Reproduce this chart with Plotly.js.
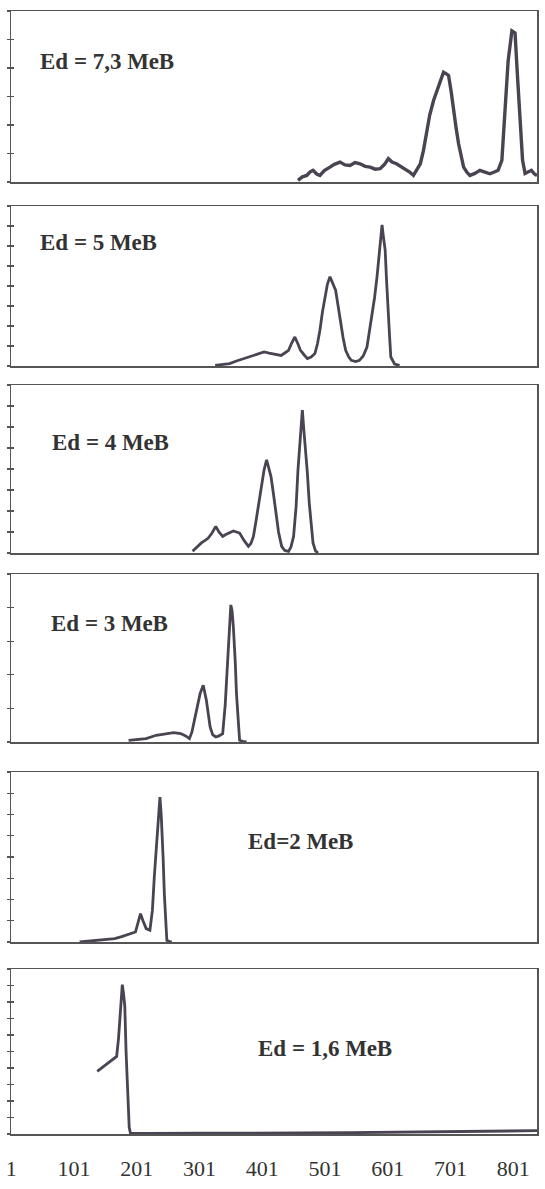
<!DOCTYPE html>
<html>
<head>
<meta charset="utf-8">
<script src="https://cdn.plot.ly/plotly-3.0.1.min.js"></script>
<style>html,body{margin:0;padding:0;background:#fff;}</style>
</head>
<body>
<div id="chart" style="width:545px;height:1189px;"></div>
<script>
// ---------- data (channel number vs. counts) ----------
const panelLabels = ["Ed = 7,3 МеВ", "Ed = 5 МеВ", "Ed = 4 МеВ", "Ed = 3 МеВ", "Ed=2 МеВ", "Ed = 1,6 МеВ"];
const xTickVals = [1, 101, 201, 301, 401, 501, 601, 701, 801];
const xTickText = ["1", "101", "201", "301", "401", "501", "601", "701", "801"];

const ch73 = [458,465,472,477,482,488,493,500,509,516,525,533,541,549,557,565,573,581,589,596,602,608,615,622,629,636,642,647,653,658,663,668,674,678,682,686,690,694,698,702,706,710,714,718,722,727,732,740,748,756,764,771,777,783,788,793,799,804,808,812,816,820,825,830,835,839];
const n73  = [6,18,23,35,41,28,23,40,52,62,70,60,58,68,64,55,52,45,47,62,82,70,64,55,47,35,23,40,64,110,181,235,285,310,332,360,385,380,374,320,250,190,134,90,52,35,23,30,41,35,29,35,41,76,250,425,530,523,367,192,76,30,35,41,28,23];

const ch5 = [326,337,349,360,371,380,387,396,404,412,421,431,437,443,448,453,458,462,468,473,479,485,489,493,497,501,505,509,513,518,522,526,530,534,539,543,550,556,562,568,572,576,580,584,588,592,594,597,599,601,604,606,612,620];
const n5  = [3,8,12,25,37,45,53,62,70,64,58,53,65,78,115,145,110,78,55,37,45,62,110,179,270,346,410,446,420,379,300,212,140,78,45,28,22,28,50,95,170,246,340,446,560,705,650,580,440,296,150,45,10,3];

const ch4 = [290,297,304,310,315,321,327,332,338,343,349,355,360,365,372,379,383,387,391,396,400,404,408,412,415,419,423,427,432,437,443,447,451,455,458,461,465,467,470,473,476,479,482,486,490];
const n4  = [8,30,48,60,71,95,127,100,79,88,95,105,100,95,60,32,45,79,150,238,320,396,444,400,364,280,190,100,32,12,8,30,79,220,396,540,681,600,507,380,238,130,48,10,0];

const ch3 = [188,200,216,232,249,260,271,279,285,289,293,297,302,307,312,318,322,327,332,338,342,346,349,351,353,355,358,360,363,365,370,376];
const n3  = [5,8,10,20,25,28,25,18,10,30,65,105,144,169,124,45,22,15,18,25,110,244,340,408,390,343,240,144,60,5,2,0];

const ch2 = [110,125,138,152,166,177,188,194,199,203,207,211,216,222,226,229,232,234,236,238,240,241,243,245,247,249,253,257];
const n2  = [0,5,8,12,16,25,36,40,47,90,133,100,63,55,150,306,440,557,640,682,600,541,400,227,100,8,2,0];

const ch16 = [138,147,155,162,169,172,174,176,178,180,182,184,187,189,191,220,300,380,460,540,620,700,780,839];
const n16  = [379,405,429,450,470,580,692,800,905,850,773,500,146,40,4,3,5,4,6,8,10,13,16,20];

const yMaxCounts = [600, 800, 800, 500, 800, 1000];

// ---------- layout geometry (pixels) ----------
const W = 545, H = 1189;
const X0 = 11, X1 = 537;
const panelTop = [11, 206, 385, 574, 772, 969];
const panelBot = [182, 366, 553, 742, 942, 1134];
const textLeft = [38, 38, 50, 49, 246, 256];
const textMid  = [62, 242, 442, 623, 842, 1048];

const series = [[ch73, n73], [ch5, n5], [ch4, n4], [ch3, n3], [ch2, n2], [ch16, n16]];

const lineCol = '#4a4352';
const axisCol = '#555555';
const data = [];
const layout = {
  width: W, height: H,
  margin: {l: 0, r: 0, t: 0, b: 0},
  paper_bgcolor: '#ffffff', plot_bgcolor: '#ffffff',
  showlegend: false,
  annotations: []
};

for (let i = 0; i < 6; i++) {
  const xs = i === 0 ? '' : String(i + 1);
  const ys = i === 0 ? '' : String(i + 1);
  const xid = 'x' + xs, yid = 'y' + ys;
  const ovId = 'y' + (i + 7);

  data.push({
    x: series[i][0], y: series[i][1],
    mode: 'lines', xaxis: xid, yaxis: yid,
    line: {color: lineCol, width: i === 0 ? 3.4 : 2.8},
    hoverinfo: 'skip'
  });
  data.push({x: [], y: [], mode: 'lines', xaxis: xid, yaxis: ovId, hoverinfo: 'skip'});

  layout['xaxis' + xs] = {
    domain: [X0 / W, X1 / W],
    range: [0.6, 839],
    anchor: yid,
    showline: true, mirror: true, linecolor: axisCol, linewidth: 1.5,
    showgrid: false, zeroline: false,
    ticks: '',
    showticklabels: i === 5,
    tickmode: 'array', tickvals: xTickVals, ticktext: xTickText,
    tickfont: {family: 'Liberation Serif', size: 22, color: '#333333'},
    ticklabelstandoff: 14,
    fixedrange: true
  };
  const yRange = [0, yMaxCounts[i]];
  layout['yaxis' + ys] = {
    domain: [1 - panelBot[i] / H, 1 - panelTop[i] / H],
    range: yRange,
    anchor: xid,
    showline: true, mirror: true, linecolor: axisCol, linewidth: 1.5,
    showgrid: false, zeroline: false,
    ticks: 'outside', ticklen: 3, tickwidth: 1.2, tickcolor: axisCol,
    tickmode: 'linear', tick0: 0, dtick: 100,
    showticklabels: false,
    fixedrange: true
  };
  layout['yaxis' + (i + 7)] = {
    overlaying: yid, anchor: xid, side: 'left',
    range: yRange,
    showline: false, showgrid: false, zeroline: false,
    ticks: 'inside', ticklen: 3, tickwidth: 1.2, tickcolor: axisCol,
    tickmode: 'linear', tick0: 0, dtick: 100,
    showticklabels: false,
    fixedrange: true
  };

  layout.annotations.push({
    xref: 'paper', yref: 'paper',
    x: textLeft[i] / W, y: 1 - textMid[i] / H,
    xanchor: 'left', yanchor: 'middle',
    text: '<b>' + panelLabels[i] + '</b>', showarrow: false,
    font: {family: 'Liberation Serif', size: 23, color: '#333333'}
  });
}

Plotly.newPlot('chart', data, layout, {displayModeBar: false, staticPlot: true});
</script>
</body>
</html>
